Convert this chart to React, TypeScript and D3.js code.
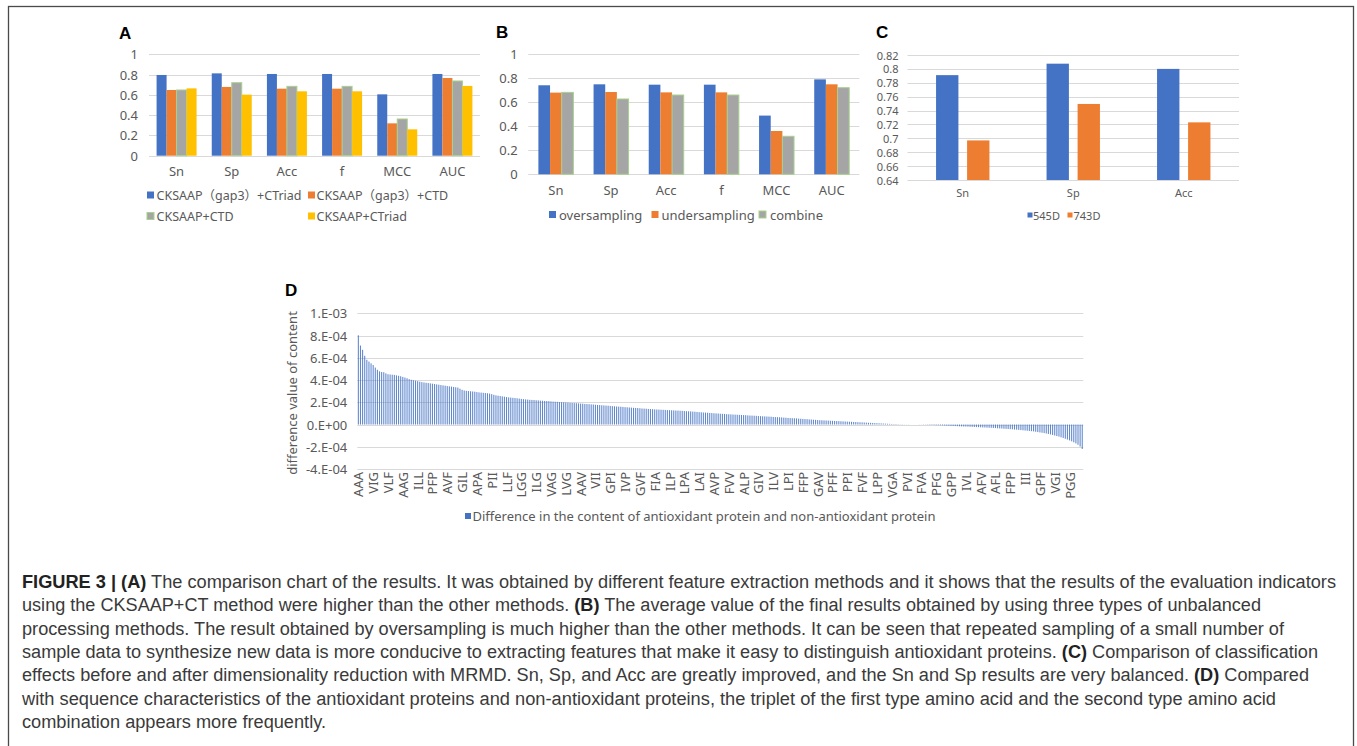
import React, { useEffect, useRef } from 'react';
import * as d3 from 'd3';

// panel A: feature extraction comparison
const metrics = ['Sn', 'Sp', 'Acc', 'f', 'MCC', 'AUC'];
const featureNames = ['CKSAAP（gap3）+CTriad', 'CKSAAP（gap3）+CTD', 'CKSAAP+CTD', 'CKSAAP+CTriad'];
const gap3CTriad = [0.796, 0.812, 0.806, 0.806, 0.605, 0.806];
const gap3CTD = [0.648, 0.678, 0.661, 0.661, 0.319, 0.766];
const cksaapCTD = [0.648, 0.72, 0.684, 0.684, 0.362, 0.737];
const cksaapCTriad = [0.664, 0.602, 0.635, 0.635, 0.26, 0.688];

// panel B: unbalanced processing
const samplingNames = ['oversampling', 'undersampling', 'combine'];
const oversampling = [0.74, 0.748, 0.745, 0.745, 0.488, 0.789];
const undersampling = [0.679, 0.684, 0.681, 0.681, 0.36, 0.748];
const combine = [0.681, 0.626, 0.659, 0.659, 0.316, 0.72];

// panel C: before / after MRMD
const dimMetrics = ['Sn', 'Sp', 'Acc'];
const dimNames = ['545D', '743D'];
const dim545 = [0.791, 0.8075, 0.8];
const dim743 = [0.697, 0.7495, 0.723];

const unitTicks = [0, 0.2, 0.4, 0.6, 0.8, 1];
const dimTicks = [0.64, 0.66, 0.68, 0.7, 0.72, 0.74, 0.76, 0.78, 0.8, 0.82];

// panel D: content difference (units of 1e-4), one label every 7 triplets
const tripletLabels = [
  'AAA', 'VIG', 'VLF', 'AAG', 'ILL', 'PFP', 'AVF', 'GIL', 'APA', 'PII', 'LLF', 'LGG', 'ILG', 'VAG', 'LVG',
  'AAV', 'VII', 'GPI', 'IVP', 'GVF', 'FIA', 'ILP', 'LPA', 'LAI', 'AVP', 'FVV', 'ALP', 'GIV', 'ILV', 'LPI',
  'FFP', 'GAV', 'PFF', 'PPI', 'FVF', 'LPP', 'VGA', 'PVI', 'FVA', 'PFG', 'GPP', 'IVL', 'AFV', 'AFL', 'FPP',
  'III', 'GPF', 'VGI', 'PGG',
];
const contentDiff = [
  8.02, 7.10, 6.72, 6.18, 5.82, 5.66, 5.50,
  5.35, 5.12, 4.92, 4.78, 4.72, 4.70, 4.60,
  4.52, 4.50, 4.48, 4.46, 4.42, 4.38, 4.34,
  4.28, 4.22, 4.16, 4.08, 4.02, 3.98, 3.94,
  3.90, 3.85, 3.81, 3.78, 3.75, 3.73, 3.70,
  3.67, 3.64, 3.61, 3.58, 3.55, 3.52, 3.49,
  3.46, 3.43, 3.41, 3.38, 3.35, 3.32, 3.22,
  3.12, 3.06, 3.03, 3.01, 2.99, 2.97, 2.95,
  2.92, 2.89, 2.87, 2.85, 2.83, 2.81, 2.78,
  2.73, 2.67, 2.62, 2.59, 2.56, 2.53, 2.50,
  2.47, 2.44, 2.42, 2.40, 2.38, 2.36, 2.33,
  2.30, 2.28, 2.26, 2.24, 2.22, 2.21, 2.20,
  2.18, 2.17, 2.15, 2.14, 2.12, 2.11, 2.10,
  2.08, 2.06, 2.05, 2.04, 2.02, 2.01, 2.00,
  1.98, 1.97, 1.95, 1.94, 1.93, 1.92, 1.90,
  1.88, 1.87, 1.85, 1.84, 1.83, 1.81, 1.80,
  1.78, 1.76, 1.75, 1.73, 1.72, 1.70, 1.69,
  1.67, 1.65, 1.64, 1.62, 1.61, 1.60, 1.58,
  1.56, 1.55, 1.53, 1.52, 1.50, 1.49, 1.48,
  1.46, 1.44, 1.43, 1.42, 1.40, 1.39, 1.38,
  1.36, 1.35, 1.34, 1.33, 1.32, 1.31, 1.30,
  1.29, 1.28, 1.27, 1.26, 1.25, 1.24, 1.23,
  1.21, 1.20, 1.19, 1.18, 1.16, 1.15, 1.13,
  1.11, 1.10, 1.08, 1.07, 1.06, 1.04, 1.03,
  1.01, 1.00, 0.99, 0.97, 0.96, 0.95, 0.93,
  0.92, 0.91, 0.90, 0.89, 0.88, 0.87, 0.86,
  0.85, 0.84, 0.82, 0.81, 0.80, 0.79, 0.78,
  0.76, 0.75, 0.74, 0.73, 0.72, 0.71, 0.70,
  0.68, 0.67, 0.66, 0.65, 0.64, 0.62, 0.61,
  0.59, 0.58, 0.57, 0.56, 0.55, 0.53, 0.52,
  0.50, 0.49, 0.48, 0.46, 0.45, 0.43, 0.42,
  0.40, 0.39, 0.38, 0.37, 0.36, 0.35, 0.34,
  0.33, 0.32, 0.31, 0.30, 0.29, 0.28, 0.27,
  0.26, 0.25, 0.24, 0.23, 0.22, 0.21, 0.20,
  0.19, 0.18, 0.17, 0.16, 0.15, 0.14, 0.13,
  0.12, 0.11, 0.10, 0.09, 0.08, 0.07, 0.06,
  0.05, 0.04, 0.04, 0.03, 0.02, 0.02, 0.01,
  0.01, 0.01, 0.00, 0.00, 0.00, 0.00, -0.01,
  -0.01, -0.02, -0.02, -0.03, -0.04, -0.04, -0.05,
  -0.06, -0.06, -0.07, -0.08, -0.09, -0.10, -0.11,
  -0.12, -0.13, -0.14, -0.15, -0.16, -0.17, -0.18,
  -0.18, -0.19, -0.20, -0.21, -0.22, -0.23, -0.24,
  -0.25, -0.26, -0.27, -0.28, -0.29, -0.30, -0.31,
  -0.32, -0.34, -0.35, -0.36, -0.38, -0.39, -0.40,
  -0.42, -0.43, -0.45, -0.46, -0.48, -0.50, -0.52,
  -0.54, -0.56, -0.58, -0.60, -0.62, -0.65, -0.68,
  -0.71, -0.74, -0.77, -0.81, -0.85, -0.89, -0.94,
  -0.99, -1.04, -1.09, -1.15, -1.21, -1.28, -1.35,
  -1.43, -1.51, -1.60, -1.70, -1.82, -1.98, -2.20,
];
const diffTicks = [-4, -2, 0, 2, 4, 6, 8, 10];
const diffLegend = 'Difference in the content of antioxidant protein and non-antioxidant protein';

const captionLines = [
  [['FIGURE 3 | (A)', true], [' The comparison chart of the results. It was obtained by different feature extraction methods and it shows that the results of the evaluation indicators', false]],
  [['using the CKSAAP+CT method were higher than the other methods. ', false], ['(B)', true], [' The average value of the final results obtained by using three types of unbalanced', false]],
  [['processing methods. The result obtained by oversampling is much higher than the other methods. It can be seen that repeated sampling of a small number of', false]],
  [['sample data to synthesize new data is more conducive to extracting features that make it easy to distinguish antioxidant proteins. ', false], ['(C)', true], [' Comparison of classification', false]],
  [['effects before and after dimensionality reduction with MRMD. Sn, Sp, and Acc are greatly improved, and the Sn and Sp results are very balanced. ', false], ['(D)', true], [' Compared', false]],
  [['with sequence characteristics of the antioxidant proteins and non-antioxidant proteins, the triplet of the first type amino acid and the second type amino acid', false]],
  [['combination appears more frequently.', false]],
];
const captionEnds = [1336, 1261, 1284, 1318, 1309, 1276, 326];

const BLUE = '#4472C4';
const ORANGE = '#ED7D31';
const GRAY = '#A5A5A5';
const YELLOW = '#FFC000';
const GREEN_EDGE = '#A9D18E';
const TEXT = '#595959';
const GRID = '#D9D9D9';
const FONT = '"Noto Sans", "Noto Sans CJK SC", sans-serif';

function groupedBars(svg, cfg) {
  const g = svg.append('g').style('font-family', FONT);
  const x = d3.scaleBand().domain(cfg.categories).range([cfg.x0, cfg.x1])
    .paddingInner(cfg.pad).paddingOuter(cfg.pad / 2);
  const xs = d3.scaleBand().domain(cfg.names).range([0, x.bandwidth()]).paddingInner(cfg.innerPad || 0);
  const y = d3.scaleLinear().domain(cfg.domain).range([cfg.y0, cfg.y1]);

  g.selectAll('line.grid').data(cfg.ticks).enter().append('line')
    .attr('x1', cfg.x0).attr('x2', cfg.x1)
    .attr('y1', d => Math.round(y(d)) + 0.5).attr('y2', d => Math.round(y(d)) + 0.5)
    .attr('stroke', GRID).attr('stroke-width', 1);
  g.selectAll('text.tick').data(cfg.ticks).enter().append('text')
    .attr('x', cfg.x0 - cfg.tickGap).attr('y', d => y(d))
    .attr('text-anchor', 'end').attr('dominant-baseline', 'central')
    .attr('font-size', cfg.fs).attr('fill', TEXT).text(d => cfg.fmt(d));

  cfg.series.forEach((vals, si) => {
    g.selectAll(null).data(vals).enter().append('rect')
      .attr('x', (d, i) => x(cfg.categories[i]) + xs(cfg.names[si]))
      .attr('width', xs.bandwidth())
      .attr('y', d => y(d)).attr('height', d => y(cfg.domain[0]) - y(d))
      .attr('fill', cfg.colors[si])
      .attr('stroke', cfg.edges && cfg.edges[si] ? cfg.edges[si] : 'none')
      .attr('stroke-width', 1);
  });

  g.selectAll('text.cat').data(cfg.categories).enter().append('text')
    .attr('x', d => x(d) + x.bandwidth() / 2).attr('y', cfg.catY)
    .attr('text-anchor', 'middle').attr('dominant-baseline', 'central')
    .attr('font-size', cfg.fs).attr('fill', TEXT).text(d => d);

  cfg.legend.forEach((it, i) => {
    g.append('rect').attr('x', it.sx).attr('y', it.y - cfg.sq / 2).attr('width', cfg.sq).attr('height', cfg.sq)
      .attr('fill', cfg.colors[i])
      .attr('stroke', cfg.edges && cfg.edges[i] ? cfg.edges[i] : 'none');
    g.append('text').attr('x', it.tx).attr('y', it.y).attr('dominant-baseline', 'central')
      .attr('font-size', cfg.legendFs || cfg.fs).attr('fill', TEXT).text(cfg.names[i]);
  });

  svg.append('text').attr('x', cfg.letter[0]).attr('y', cfg.letter[1]).attr('dominant-baseline', 'central')
    .attr('font-family', 'Liberation Sans, Arial, sans-serif').attr('font-weight', 'bold')
    .attr('font-size', 17).attr('fill', '#000').text(cfg.letter[2]);
}

const App = () => {
  const ref = useRef(null);

  useEffect(() => {
    const svg = d3.select(ref.current);
    svg.selectAll('*').remove();

    svg.append('rect').attr('x', 8.5).attr('y', 6.5).attr('width', 1345).attr('height', 760)
      .attr('fill', 'none').attr('stroke', '#4a4a4a').attr('stroke-width', 1.3);

    groupedBars(svg, {
      categories: metrics, names: featureNames,
      series: [gap3CTriad, gap3CTD, cksaapCTD, cksaapCTriad],
      colors: [BLUE, ORANGE, GRAY, YELLOW], edges: [null, null, GREEN_EDGE, null],
      x0: 149, x1: 480, y0: 155.7, y1: 54.3, domain: [0, 1], ticks: unitTicks,
      fmt: d3.format('~g'), pad: 0.275, tickGap: 11, fs: 13, legendFs: 12.5, catY: 170.5, sq: 7,
      legend: [
        { sx: 147, tx: 156.5, y: 195 }, { sx: 308, tx: 316.5, y: 195 },
        { sx: 147, tx: 156.5, y: 216 }, { sx: 308, tx: 316.5, y: 216 },
      ],
      letter: [119, 33, 'A'],
    });

    groupedBars(svg, {
      categories: metrics, names: samplingNames,
      series: [oversampling, undersampling, combine],
      colors: [BLUE, ORANGE, GRAY], edges: [null, null, GREEN_EDGE],
      x0: 528.3, x1: 859.3, y0: 174.3, y1: 54, domain: [0, 1], ticks: unitTicks,
      fmt: d3.format('~g'), pad: 0.366, tickGap: 10.6, fs: 13, catY: 189.5, sq: 7,
      legend: [
        { sx: 549, tx: 559, y: 214.5 }, { sx: 651.5, tx: 661.5, y: 214.5 }, { sx: 759, tx: 770, y: 214.5 },
      ],
      letter: [496, 32, 'B'],
    });

    groupedBars(svg, {
      categories: dimMetrics, names: dimNames,
      series: [dim545, dim743],
      colors: [BLUE, ORANGE], edges: [null, null],
      x0: 907.5, x1: 1239, y0: 180, y1: 55, domain: [0.64, 0.82], ticks: dimTicks,
      fmt: d3.format('~g'), pad: 0.517, innerPad: 0.28, tickGap: 9, fs: 11, catY: 192.5, sq: 5,
      legend: [{ sx: 1027.5, tx: 1033, y: 215 }, { sx: 1067.5, tx: 1073.5, y: 215 }],
      letter: [876, 32, 'C'],
    });

    // panel D
    const gd = svg.append('g').style('font-family', FONT);
    const dx0 = 357.3, dx1 = 1083.3;
    const idx = contentDiff.map((d, i) => i);
    const x = d3.scaleBand().domain(idx).range([dx0, dx1]).paddingInner(0.5).paddingOuter(0.25);
    const y = d3.scaleLinear().domain([-4, 10]).range([469, 313.3]);

    gd.selectAll('line.grid').data(diffTicks).enter().append('line')
      .attr('x1', dx0).attr('x2', dx1)
      .attr('y1', d => Math.round(y(d)) + 0.5).attr('y2', d => Math.round(y(d)) + 0.5)
      .attr('stroke', GRID).attr('stroke-width', 1);
    gd.selectAll('text.tick').data(diffTicks).enter().append('text')
      .attr('x', dx0 - 10).attr('y', d => y(d))
      .attr('text-anchor', 'end').attr('dominant-baseline', 'central')
      .attr('font-size', 13).attr('fill', TEXT)
      .text(d => {
        const v = d * 1e-4;
        if (v === 0) return '0.E+00';
        const e = Math.floor(Math.log10(Math.abs(v)) + 1e-9);
        const m = Math.round(v / Math.pow(10, e));
        return `${m}.E${e < 0 ? '-' : '+'}${String(Math.abs(e)).padStart(2, '0')}`;
      });

    gd.selectAll('rect.bar').data(contentDiff).enter().append('rect')
      .attr('x', (d, i) => x(i)).attr('width', x.bandwidth())
      .attr('y', d => Math.min(y(d), y(0))).attr('height', d => Math.abs(y(d) - y(0)))
      .attr('fill', BLUE).attr('fill-opacity', 0.85);

    gd.selectAll('text.cat').data(tripletLabels).enter().append('text')
      .attr('transform', (d, i) => `translate(${x(i * 7) + x.bandwidth() / 2},472) rotate(-90)`)
      .attr('text-anchor', 'end').attr('dominant-baseline', 'central')
      .attr('font-size', 13).attr('fill', TEXT).text(d => d);

    gd.append('text').attr('transform', 'translate(292,393) rotate(-90)')
      .attr('text-anchor', 'middle').attr('dominant-baseline', 'central')
      .attr('font-size', 13).attr('fill', TEXT).text('difference value of content');

    gd.append('rect').attr('x', 465).attr('y', 513).attr('width', 6).attr('height', 6).attr('fill', BLUE);
    gd.append('text').attr('x', 472.5).attr('y', 516).attr('dominant-baseline', 'central')
      .attr('font-size', 13).attr('fill', TEXT).text(diffLegend);

    svg.append('text').attr('x', 285).attr('y', 290).attr('dominant-baseline', 'central')
      .attr('font-family', 'Liberation Sans, Arial, sans-serif').attr('font-weight', 'bold')
      .attr('font-size', 17).attr('fill', '#000').text('D');

    // caption, condensed to the original line widths
    const cap = svg.append('g')
      .attr('font-family', '"Liberation Sans", Arial, sans-serif')
      .attr('font-size', 18).attr('fill', '#3a3a3a');
    captionLines.forEach((parts, li) => {
      const t = cap.append('text').attr('x', 22).attr('y', 588 + li * 23.3)
        .attr('textLength', captionEnds[li] - 22).attr('lengthAdjust', 'spacingAndGlyphs');
      parts.forEach(([s, b]) => {
        t.append('tspan').attr('font-weight', b ? 'bold' : 'normal').attr('fill', b ? '#222' : '#3a3a3a').text(s);
      });
    });
  }, []);

  return (
    <svg ref={ref} width={1357} height={746}
      style={{ position: 'absolute', left: 0, top: 0, display: 'block', background: '#fff' }} />
  );
};

export default App;
